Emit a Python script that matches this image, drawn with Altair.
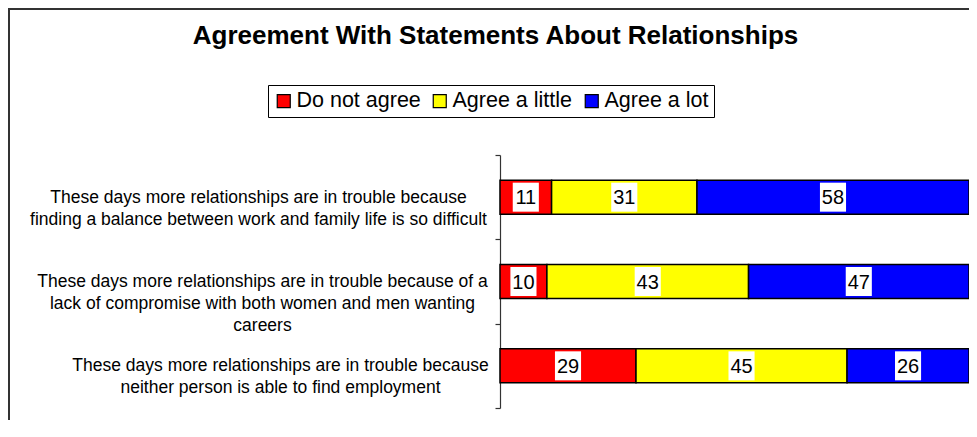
import altair as alt
import pandas as pd

# ---- data ----
questions = [
    "These days more relationships are in trouble because|finding a balance between work and family life is so difficult",
    "These days more relationships are in trouble because of a|lack of compromise with both women and men wanting|careers",
    "These days more relationships are in trouble because|neither person is able to find employment",
]
responses = ["Do not agree", "Agree a little", "Agree a lot"]
do_not_agree = [11, 10, 29]
agree_a_little = [31, 43, 45]
agree_a_lot = [58, 47, 26]
colors = ["#FF0000", "#FFFF00", "#0000FF"]
title_text = "Agreement With Statements About Relationships"

rows = []
for qi, q in enumerate(questions):
    for ri, (r, vals) in enumerate(zip(responses, [do_not_agree, agree_a_little, agree_a_lot])):
        rows.append({"question": q, "response": r, "order": ri, "value": vals[qi]})
df = pd.DataFrame(rows)

FONT = "Liberation Sans"
W, H = 469, 253
PAD_L, PAD_T, PAD_B = 492, 147, 12

base = alt.Chart(df).transform_stack(
    stack="value", groupby=["question"], as_=["x0", "x1"],
    sort=[alt.SortField("order", order="ascending")],
).transform_calculate(mid="(datum.x0 + datum.x1) / 2")

yscale = alt.Scale(paddingInner=0, paddingOuter=0)
yenc = alt.Y(
    "question:N", sort=questions, title=None, scale=yscale,
    axis=alt.Axis(
        labelExpr="split(datum.label, '|')",
        labelAlign="center", labelBaseline="middle",
        labelFont=FONT, labelFontSize=17.5, labelLineHeight=22,
        labelColor="black", labelLimit=600,
        labelPadding={"condition": [
            {"test": "datum.index < 0.25", "value": 237},
            {"test": "datum.index < 0.75", "value": 233},
        ], "value": 215},
        ticks=True, tickBand="extent", tickExtra=True, tickSize=5,
        tickColor="#333333", tickWidth=1.2, tickOpacity=1,
        domain=True, domainColor="#333333", domainWidth=1.2, grid=False,
    ),
)
xscale = alt.Scale(domain=[0, 100], nice=False, zero=True)

bars = base.mark_bar(stroke="black", strokeWidth=1.5, height=34).encode(
    y=yenc,
    x=alt.X("x0:Q", scale=xscale, axis=None),
    x2="x1:Q",
    color=alt.Color(
        "response:N", scale=alt.Scale(domain=responses, range=colors),
        legend=alt.Legend(
            title=None, orient="none", legendX=-232, legendY=-70,
            direction="horizontal", strokeColor="black", fillColor="white",
            padding=5, symbolType="square", symbolSize=169,
            symbolStrokeColor="black", symbolStrokeWidth=1.2, symbolOpacity=1,
            labelFont=FONT, labelFontSize=21.5, labelColor="black",
            labelOffset=2, columnPadding=8, cornerRadius=0,
        ),
    ),
)

boxes = base.mark_point(
    shape="M-0.9,-1H0.9V1H-0.9Z", filled=True, color="white", opacity=1, size=841
).encode(y=alt.Y("question:N", sort=questions), x=alt.X("mid:Q", scale=xscale))

labels = base.mark_text(font=FONT, fontSize=20, color="black", baseline="middle", dy=1).encode(
    y=alt.Y("question:N", sort=questions),
    x=alt.X("mid:Q", scale=xscale),
    text="value:Q",
)

one = alt.Data(values=[{"k": 1}])
frame_left = alt.Chart(one).mark_rule(color="#333333", strokeWidth=2).encode(
    x=alt.value(-PAD_L + 1), y=alt.value(-PAD_T), y2=alt.value(H + PAD_B)
)
frame_top = alt.Chart(one).mark_rule(color="#333333", strokeWidth=2).encode(
    x=alt.value(-PAD_L), x2=alt.value(W), y=alt.value(-PAD_T + 1)
)
title = alt.Chart(one).mark_text(
    text=title_text, font=FONT, fontSize=26, fontWeight="bold", color="black",
    align="center", baseline="alphabetic",
).encode(x=alt.value(-4.5), y=alt.value(-111))

chart = alt.layer(bars, boxes, labels, frame_left, frame_top, title).properties(
    width=W, height=H,
    autosize=alt.AutoSizeParams(type="none"),
    padding={"left": PAD_L, "top": PAD_T, "right": 0, "bottom": PAD_B},
    background="white",
).configure_view(strokeWidth=0, stroke="transparent")

chart.save("out.html", embed_options={"renderer": "svg", "actions": False})
